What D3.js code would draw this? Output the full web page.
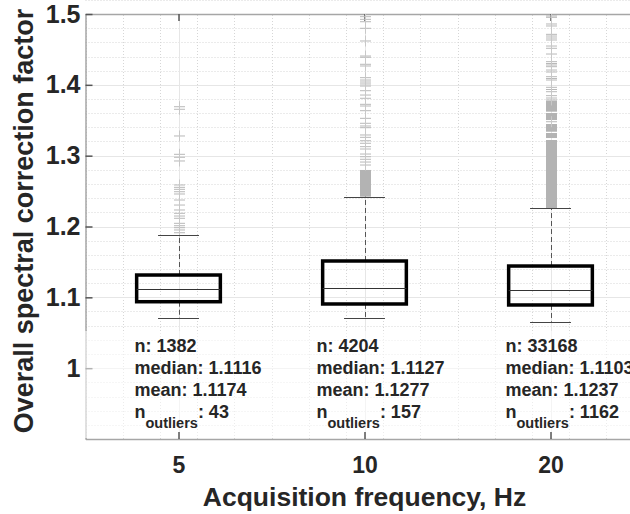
<!DOCTYPE html>
<html>
<head>
<meta charset="utf-8">
<script src="https://d3js.org/d3.v7.min.js"></script>
<style>
body { margin: 0; background: #fff; }
svg text { font-family: "Liberation Sans", Arial, Helvetica, sans-serif; font-weight: bold; fill: #262626; }
.grid-major line { stroke: #e6e6e6; stroke-width: 1; }
.grid-minor line { stroke: #d6d6d6; stroke-width: 1; stroke-dasharray: 1,2; }
.axis path { stroke: #a6a6a6; stroke-width: 1.5; }
.axis line { stroke: #555; stroke-width: 1.5; }
</style>
</head>
<body>
<script>

// box statistics
var groups = ["5", "10", "20"];
var q1 = [1.0938, 1.0906, 1.0892];
var medians = [1.1116, 1.1127, 1.1103];
var q3 = [1.1315, 1.1513, 1.1442];
var whiskLo = [1.0708, 1.0708, 1.0656];
var whiskHi = [1.1880, 1.2421, 1.2261];
var nObs = [1382, 4204, 33168];
var means = [1.1174, 1.1277, 1.1237];
var nOutliers = [43, 157, 1162];

// visible outlier marks
var outliers5 = [1.3691, 1.3655, 1.3278, 1.3019, 1.2977, 1.2925, 1.2586, 1.2553, 1.2525,
  1.2491, 1.2459, 1.2374, 1.2303, 1.2233, 1.2186, 1.2148, 1.2116, 1.2045, 1.2011,
  1.1983, 1.1951, 1.1912];
var outliers10 = [1.4962, 1.4925, 1.4891, 1.4798, 1.4619, 1.4407, 1.4389, 1.4290, 1.4266,
  1.4101, 1.4068, 1.4040, 1.4012, 1.3983, 1.3917, 1.3856, 1.3810, 1.3725, 1.3701,
  1.3635, 1.3527, 1.3457, 1.3419, 1.3395, 1.3292, 1.3259, 1.3211, 1.3175, 1.3127,
  1.3094, 1.3023, 1.2985, 1.2949, 1.2910, 1.2868];
var outliers20 = [1.4972, 1.4953, 1.4859, 1.4831, 1.4713, 1.4689, 1.4661, 1.4633, 1.4548,
  1.4516, 1.4435, 1.4327, 1.4301, 1.4280, 1.4256, 1.4209, 1.4181, 1.4115, 1.4089,
  1.4068, 1.3965, 1.3934, 1.3903, 1.3847, 1.3814, 1.3786, 1.3479];
// ranges where the outlier marks merge into a solid band
var bands5 = [];
var bands10 = [[1.2421, 1.2798]];
var bands20 = [[1.3621, 1.3776], [1.3503, 1.3602], [1.3338, 1.3447], [1.3249, 1.3320], [1.2261, 1.3221]];

var yTicks = [1, 1.1, 1.2, 1.3, 1.4, 1.5];

var outlierSets = [outliers5, outliers10, outliers20];
var bandSets = [bands5, bands10, bands20];

var W = 630, H = 514;
var svg = d3.select("body").append("svg")
    .attr("width", W)
    .attr("height", H);

var x = d3.scaleLinear().domain([0.5, 3.5]).range([85.5, 643.5]);
var y = d3.scaleLinear().domain([0.9, 1.5]).range([439, 14]);

// grid
var minorY = d3.range(46).map(function(i) { return 0.9 + i * 0.02; });
var minorX = d3.range(16).map(function(i) { return 0.5 + i * 0.2; });

svg.append("g").attr("class", "grid-minor")
  .selectAll("line").data(minorY).enter().append("line")
    .attr("x1", x(0.5)).attr("x2", x(3.5))
    .attr("y1", function(d) { return Math.round(y(d)) + 0.5; })
    .attr("y2", function(d) { return Math.round(y(d)) + 0.5; });

svg.append("g").attr("class", "grid-minor")
  .selectAll("line").data(minorX).enter().append("line")
    .attr("y1", y(0.9)).attr("y2", y(1.5))
    .attr("x1", function(d) { return Math.round(x(d)) + 0.5; })
    .attr("x2", function(d) { return Math.round(x(d)) + 0.5; });

svg.append("g").attr("class", "grid-major")
  .selectAll("line").data(yTicks).enter().append("line")
    .attr("x1", x(0.5)).attr("x2", x(3.5))
    .attr("y1", function(d) { return Math.round(y(d)) + 0.5; })
    .attr("y2", function(d) { return Math.round(y(d)) + 0.5; });

svg.append("g").attr("class", "grid-major")
  .selectAll("line").data([1, 2, 3]).enter().append("line")
    .attr("y1", y(0.9)).attr("y2", y(1.5))
    .attr("x1", function(d) { return Math.round(x(d)) + 0.5; })
    .attr("x2", function(d) { return Math.round(x(d)) + 0.5; });

// axes
var yAxis = d3.axisLeft(y)
    .tickValues(yTicks)
    .tickSize(-7)
    .tickSizeOuter(0)
    .tickPadding(5)
    .tickFormat(function(d) { return String(d); });

var xAxis = d3.axisBottom(x)
    .tickValues([1, 2, 3])
    .tickSize(-7)
    .tickSizeOuter(0)
    .tickPadding(18)
    .tickFormat(function(d) { return groups[d - 1]; });

var xTop = d3.axisTop(x)
    .tickValues([1, 2, 3])
    .tickSize(-7)
    .tickSizeOuter(0)
    .tickFormat("");

svg.append("g").attr("class", "axis")
    .attr("transform", "translate(0," + y(1.5) + ")")
    .call(xTop);

svg.append("g").attr("class", "axis")
    .attr("transform", "translate(" + x(0.5) + ",0)")
    .call(yAxis)
  .selectAll("text")
    .style("font-size", "25px");

var clip = svg.append("clipPath").attr("id", "plotclip")
  .append("rect")
    .attr("x", x(0.5)).attr("y", y(1.5))
    .attr("width", x(3.5) - x(0.5)).attr("height", y(0.9) - y(1.5));

var plot = svg.append("g").attr("clip-path", "url(#plotclip)");

// boxes
var boxHalf = 0.225, capHalf = 0.11, markHalf = 5.5;

groups.forEach(function(g, i) {
  var cx = Math.round(x(i + 1)) + 0.5;
  var grp = plot.append("g");

  // outlier bands and + marks
  grp.selectAll(".band").data(bandSets[i]).enter().append("rect")
      .attr("x", cx - markHalf)
      .attr("width", markHalf * 2)
      .attr("y", function(d) { return y(d[1]); })
      .attr("height", function(d) { return y(d[0]) - y(d[1]); })
      .style("fill", "#b3b3b3");

  var marks = grp.selectAll(".mark").data(outlierSets[i]).enter().append("g")
      .attr("transform", function(d) { return "translate(" + cx + "," + y(d) + ")"; });
  marks.append("line")
      .attr("x1", -markHalf).attr("x2", markHalf)
      .style("stroke", "#b8b8b8").style("stroke-width", 1);
  marks.append("line")
      .attr("y1", -markHalf).attr("y2", markHalf)
      .style("stroke", "#c8c8c8").style("stroke-width", 1);

  // whiskers
  grp.append("line")
      .attr("x1", cx).attr("x2", cx)
      .attr("y1", y(q3[i])).attr("y2", y(whiskHi[i]))
      .style("stroke", "#555").style("stroke-dasharray", "5,3");
  grp.append("line")
      .attr("x1", cx).attr("x2", cx)
      .attr("y1", y(q1[i])).attr("y2", y(whiskLo[i]))
      .style("stroke", "#555").style("stroke-dasharray", "5,3");

  [whiskHi[i], whiskLo[i]].forEach(function(v) {
    grp.append("line")
        .attr("x1", x(i + 1 - capHalf)).attr("x2", x(i + 1 + capHalf))
        .attr("y1", Math.round(y(v)) + 0.5).attr("y2", Math.round(y(v)) + 0.5)
        .style("stroke", "#444").style("stroke-width", 1.2);
  });

  grp.append("rect")
      .attr("x", x(i + 1 - boxHalf))
      .attr("width", x(i + 1 + boxHalf) - x(i + 1 - boxHalf))
      .attr("y", y(q3[i]))
      .attr("height", y(q1[i]) - y(q3[i]))
      .style("fill", "none")
      .style("stroke", "#000")
      .style("stroke-width", 3.5);

  grp.append("line")
      .attr("x1", x(i + 1 - boxHalf)).attr("x2", x(i + 1 + boxHalf))
      .attr("y1", Math.round(y(medians[i])) + 0.5).attr("y2", Math.round(y(medians[i])) + 0.5)
      .style("stroke", "#333").style("stroke-width", 1.2);
});

// light panel behind the statistics text
svg.append("rect")
    .attr("x", x(0.5) - 1.5)
    .attr("y", 331)
    .attr("width", W)
    .attr("height", y(0.9) - 331 - 1)
    .style("fill", "#fff")
    .style("opacity", 0.55);

svg.append("g").attr("class", "axis")
    .attr("transform", "translate(0," + y(0.9) + ")")
    .call(xAxis)
  .selectAll("text")
    .style("font-size", "23px");

// statistics text
var annotDx = [-44, -48, -45];
var fmt4 = d3.format(".4f");

groups.forEach(function(g, i) {
  var tx = x(i + 1) + annotDx[i];
  var t = svg.append("g").style("font-size", "18px");
  t.append("text").attr("x", tx).attr("y", 352).text("n: " + nObs[i]);
  t.append("text").attr("x", tx).attr("y", 374).text("median: " + fmt4(medians[i]));
  t.append("text").attr("x", tx).attr("y", 396).text("mean: " + fmt4(means[i]));
  var last = t.append("text").attr("x", tx).attr("y", 418);
  last.append("tspan").text("n");
  last.append("tspan").attr("dy", 10).style("font-size", "14.5px").text("outliers");
  last.append("tspan").attr("dy", -10).text(": " + nOutliers[i]);
});

// axis titles
svg.append("text")
    .attr("x", x(2))
    .attr("y", 506)
    .attr("text-anchor", "middle")
    .style("font-size", "26.5px")
    .text("Acquisition frequency, Hz");

svg.append("text")
    .attr("transform", "translate(33," + 221 + ") rotate(-90)")
    .attr("text-anchor", "middle")
    .style("font-size", "27px")
    .text("Overall spectral correction factor");

</script>
</body>
</html>
